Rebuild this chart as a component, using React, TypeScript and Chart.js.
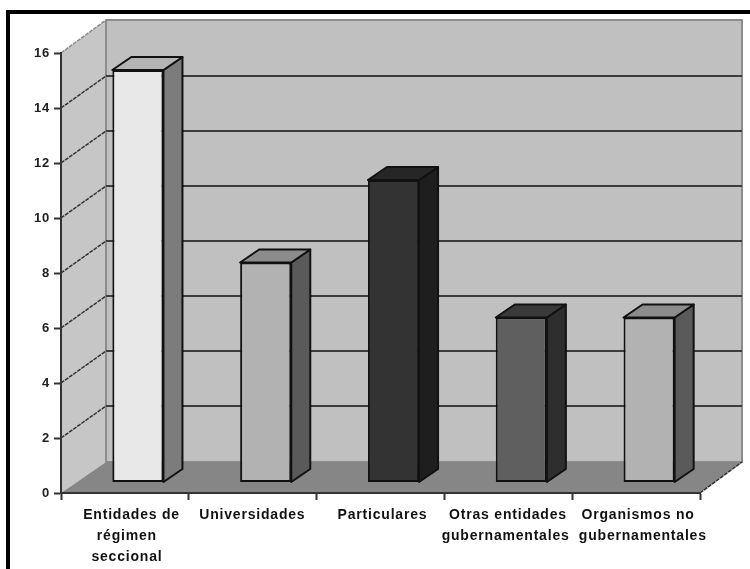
import React, { useEffect, useRef } from "react";
import { Chart, registerables } from "chart.js";

Chart.register(...registerables);

const categories: (string | string[])[] = [
  ["Entidades de", "régimen", "seccional"],
  "Universidades",
  "Particulares",
  ["Otras entidades", "gubernamentales"],
  ["Organismos no", "gubernamentales"],
];
const seriesValues = [15, 8, 11, 6, 6];
const faceColors = ["#e8e8e8", "#b2b2b2", "#333333", "#5f5f5f", "#b2b2b2"];
const sideColors = ["#7c7c7c", "#5a5a5a", "#1e1e1e", "#2e2e2e", "#5a5a5a"];
const topColors = ["#b4b4b4", "#8c8c8c", "#262626", "#3a3a3a", "#8c8c8c"];

// Lines of the category labels are not perfectly centred in the reference:
// positive = leading spaces, negative = trailing spaces, per line.
const labelNudges = [[2, 0, 0], [-1], [0], [-1, -2], [0, 2]];

const FONT = "'Liberation Sans', Arial, sans-serif";
const BAR_SHIFT_X = 13;
const BAR_SHIFT_Y = -10.5;
const BAR_DEPTH_X = 19;
const BAR_DEPTH_Y = 13;

function poly(ctx: CanvasRenderingContext2D, pts: number[][], fill: string, stroke?: string, lw = 2) {
  ctx.beginPath();
  pts.forEach((p, i) => (i ? ctx.lineTo(p[0], p[1]) : ctx.moveTo(p[0], p[1])));
  ctx.closePath();
  ctx.fillStyle = fill;
  ctx.fill();
  if (stroke) {
    ctx.strokeStyle = stroke;
    ctx.lineWidth = lw;
    ctx.lineJoin = "round";
    ctx.stroke();
  }
}

const scenePlugin = {
  id: "scene3d",
  beforeDraw(chart: any) {
    const { ctx, chartArea: a, scales, width, height } = chart;
    const y = scales.y;
    const backL = a.left + 45;
    const backR = a.right + 42;
    const rise = 31;
    const gridRise = 32;
    ctx.save();
    ctx.fillStyle = "#ffffff";
    ctx.fillRect(0, 0, width, height);
    // outer frame
    ctx.fillStyle = "#000000";
    ctx.fillRect(6, 10, width - 6, 4);
    ctx.fillRect(6, 10, 4, height - 10);
    // walls
    poly(ctx, [[a.left, a.top], [backL, a.top - rise - 2], [backL, a.bottom - rise], [a.left, a.bottom]], "#c6c6c6");
    poly(ctx, [[backL, a.top - rise - 2], [backR, a.top - rise - 2], [backR, a.bottom - rise], [backL, a.bottom - rise]], "#c0c0c0", "#8c8c8c", 2);
    poly(ctx, [[a.left, a.bottom], [backL, a.bottom - rise], [backR, a.bottom - rise], [a.right, a.bottom]], "#868686");
    // gridlines from the value scale
    y.ticks.forEach((t: any) => {
      const py = y.getPixelForValue(t.value);
      ctx.setLineDash([4, 1]);
      ctx.strokeStyle = t.value === 16 ? "#8c8c8c" : "#333333";
      ctx.lineWidth = 1.5;
      if (t.value > 0) {
        ctx.beginPath();
        ctx.moveTo(a.left, py);
        ctx.lineTo(backL, py - gridRise - (t.value === 16 ? 1 : 0));
        ctx.stroke();
      }
      ctx.setLineDash([]);
      if (t.value > 0 && t.value < 16) {
        ctx.strokeStyle = "#3c3c3c";
        ctx.lineWidth = 2;
        ctx.beginPath();
        ctx.moveTo(backL, py - gridRise);
        ctx.lineTo(backR, py - gridRise);
        ctx.stroke();
      }
    });
    // floor right edge
    ctx.setLineDash([4, 1]);
    ctx.strokeStyle = "#333333";
    ctx.lineWidth = 1.5;
    ctx.beginPath();
    ctx.moveTo(a.right, a.bottom);
    ctx.lineTo(backR, a.bottom - rise);
    ctx.stroke();
    ctx.restore();
    (ctx as any).letterSpacing = "0.8px";
  },
  beforeDatasetsDraw(chart: any) {
    const { ctx } = chart;
    ctx.save();
    ctx.translate(BAR_SHIFT_X, BAR_SHIFT_Y);
    chart.getDatasetMeta(0).data.forEach((bar: any, i: number) => {
      const l = bar.x - bar.width / 2;
      const r = bar.x + bar.width / 2;
      poly(ctx, [[r, bar.y], [r + BAR_DEPTH_X, bar.y - BAR_DEPTH_Y], [r + BAR_DEPTH_X, bar.base - BAR_DEPTH_Y], [r, bar.base]], sideColors[i], "#111111", 2);
      poly(ctx, [[l, bar.y], [l + BAR_DEPTH_X, bar.y - BAR_DEPTH_Y], [r + BAR_DEPTH_X, bar.y - BAR_DEPTH_Y], [r, bar.y]], topColors[i], "#111111", 2);
    });
  },
  afterDatasetsDraw(chart: any) {
    chart.ctx.restore();
  },
};

function nudgedLabel(index: number) {
  const raw = categories[index];
  const lines = Array.isArray(raw) ? raw : [raw];
  return lines.map((line, i) => {
    const n = labelNudges[index][i] || 0;
    return n > 0 ? " ".repeat(n) + line : line + " ".repeat(-n);
  });
}

export default function App() {
  const ref = useRef<HTMLCanvasElement>(null);
  useEffect(() => {
    const chart = new Chart(ref.current!, {
      type: "bar",
      data: {
        labels: categories as any,
        datasets: [
          {
            data: seriesValues,
            backgroundColor: faceColors,
            borderColor: "#111111",
            borderWidth: 2,
            borderSkipped: false,
            barPercentage: 0.4,
            categoryPercentage: 1,
            clip: false,
          } as any,
        ],
      },
      options: {
        responsive: false,
        animation: false,
        layout: { padding: { top: 53, right: 50, left: 0, bottom: 0 } },
        plugins: { legend: { display: false }, title: { display: false }, tooltip: { enabled: false } },
        scales: {
          x: {
            afterFit: (s: any) => { s.height = 76; },
            grid: { drawOnChartArea: false, drawTicks: true, tickLength: 7, tickColor: "#333333", tickWidth: 2 },
            border: { color: "#333333", width: 2 },
            ticks: {
              autoSkip: false,
              maxRotation: 0,
              minRotation: 0,
              padding: 5,
              labelOffset: 2,
              color: "#111111",
              font: { family: FONT, size: 14, weight: "bold", lineHeight: 1.5 },
              callback: (_v: any, index: number) => nudgedLabel(index),
            },
          },
          y: {
            min: 0,
            max: 16,
            afterFit: (s: any) => { s.width = 61; },
            grid: { drawOnChartArea: false, drawTicks: true, tickLength: 7, tickColor: "#333333", tickWidth: 2 },
            border: { color: "#333333", width: 2 },
            ticks: {
              stepSize: 2,
              padding: 4,
              color: "#222222",
              font: { family: "'Liberation Sans Narrow', 'Liberation Sans', sans-serif", size: 13, weight: "bold" },
            },
          },
        },
      },
      plugins: [scenePlugin],
    } as any);
    return () => chart.destroy();
  }, []);
  return (
    <div style={{ position: "fixed", left: 0, top: 0, width: 750, height: 569, overflow: "hidden", background: "#fff" }}>
      <canvas ref={ref} width={750} height={569} style={{ display: "block", filter: "blur(0.4px)" }} />
    </div>
  );
}
